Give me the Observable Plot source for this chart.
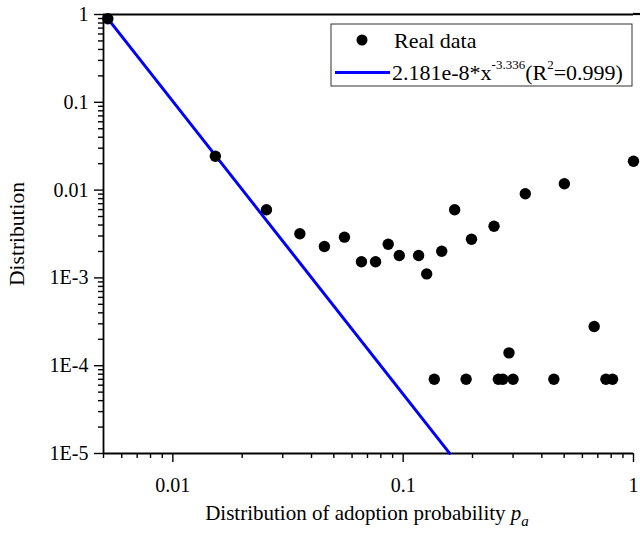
<!DOCTYPE html>
<html><head><meta charset="utf-8">
<script src="https://cdn.jsdelivr.net/npm/d3@7"></script>
<script src="https://cdn.jsdelivr.net/npm/@observablehq/plot@0.6"></script>
<style>body{margin:0;background:#fff} svg{display:block}</style>
</head><body><div id="chart"></div>
<script>
// Real data: adoption probability p_a vs distribution
const pa   = [0.00522, 0.0153, 0.0255, 0.0356, 0.0455, 0.0556, 0.0659, 0.0759, 0.0861, 0.0962,
              0.1167, 0.1265, 0.147, 0.1673, 0.198, 0.248, 0.339, 0.501, 1.0,
              0.675, 0.288,
              0.1365, 0.1876, 0.259, 0.2707, 0.300, 0.451, 0.759, 0.811];
const dist = [0.893, 0.0243, 0.00597, 0.00318, 0.00228, 0.00291, 0.00153, 0.00153, 0.00242, 0.0018,
              0.0018, 0.00111, 0.00201, 0.00597, 0.00276, 0.00388, 0.00908, 0.0118, 0.0213,
              0.00028, 0.00014,
              0.00007, 0.00007, 0.00007, 0.00007, 0.00007, 0.00007, 0.00007, 0.00007];
// Power-law fit from the legend: y = 2.181e-8 * x^-3.336
const fitA = 2.181e-8, fitB = -3.336;
const fitX = [0.0052, 0.1592];

const xTicks = [0.01, 0.1, 1];
const xTickLabels = ["0.01", "0.1", "1"];
const yTicks = [1, 0.1, 0.01, 1e-3, 1e-4, 1e-5];
const yTickLabels = ["1", "0.1", "0.01", "1E-3", "1E-4", "1E-5"];
const xDomain = [0.005, 1];
const yDomain = [1e-5, 1];
const legendLabels = ["Real data", "2.181e-8*x", "-3.336", "(R", "2", "=0.999)"];
const xLabel = "Distribution of adoption probability ";
const yLabel = "Distribution";

const data = pa.map((x, i) => ({x, y: dist[i]}));
const fit = fitX.map(x => ({x, y: fitA * Math.pow(x, fitB)}));

const minor = (lo, hi) => {
  const out = [];
  for (let e = Math.floor(Math.log10(lo)); e < Math.ceil(Math.log10(hi)); e++)
    for (let k = 2; k <= 9; k++) { const v = k * Math.pow(10, e); if (v >= lo * 0.999 && v <= hi * 1.001) out.push(v); }
  return out;
};
const xMinor = minor(xDomain[0], xDomain[1]);
const yMinor = minor(yDomain[0], yDomain[1]);

const FONT = "'Liberation Serif', 'Times New Roman', serif";
const axisCommon = {label: null, strokeWidth: 1.4, fontFamily: FONT, fontSize: 20};
const plot = Plot.plot({
  width: 640, height: 533,
  marginLeft: 103, marginRight: 7, marginTop: 14, marginBottom: 80,
  style: {fontFamily: FONT, fontSize: "20px", color: "#000", background: "#fff"},
  x: {type: "log", domain: xDomain},
  y: {type: "log", domain: yDomain},
  marks: [
    Plot.axisX({...axisCommon, ticks: xMinor, tickSize: 5, tickFormat: () => ""}),
    Plot.axisX({...axisCommon, ticks: xTicks, tickSize: 9, tickPadding: 15, tickFormat: d => xTickLabels[xTicks.indexOf(d)]}),
    Plot.axisY({...axisCommon, ticks: yMinor, tickSize: 5, tickFormat: () => ""}),
    Plot.axisY({...axisCommon, ticks: yTicks, tickSize: 9, tickPadding: 6, tickFormat: d => yTickLabels[yTicks.indexOf(d)]}),
    Plot.ruleX([xDomain[0]], {strokeWidth: 1.8}),
    Plot.ruleY([yDomain[0]], {strokeWidth: 1.8}),
    Plot.ruleY([yDomain[1]], {strokeWidth: 2.2}),
    Plot.line(fit, {x: "x", y: "y", stroke: "#0000ff", strokeWidth: 3}),
    Plot.dot(data, {x: "x", y: "y", r: 5.7, fill: "#000", stroke: null})
  ]
});
document.getElementById("chart").appendChild(plot);

const svg = d3.select(plot);
// extend the top frame line to the right edge as in the original
svg.append("line").attr("x1", 633).attr("x2", 640).attr("y1", 14).attr("y2", 14)
  .attr("stroke", "#000").attr("stroke-width", 2.2);
// axis titles
svg.append("text").attr("transform", "translate(24,234) rotate(-90)")
  .attr("text-anchor", "middle").attr("font-family", FONT).attr("font-size", 21.5).attr("fill", "#000")
  .text(yLabel);
const xl = svg.append("text").attr("x", 367).attr("y", 520)
  .attr("text-anchor", "middle").attr("font-family", FONT).attr("font-size", 21).attr("fill", "#000");
xl.append("tspan").text(xLabel);
xl.append("tspan").attr("font-style", "italic").text("p");
xl.append("tspan").attr("font-style", "italic").attr("font-size", 15).attr("dy", 6).text("a");

// legend
const lg = svg.append("g").attr("font-family", FONT).attr("fill", "#000").attr("text-anchor", "start");
lg.append("rect").attr("x", 331).attr("y", 24).attr("width", 301).attr("height", 62)
  .attr("fill", "#fff").attr("stroke", "#333").attr("stroke-width", 1);
lg.append("circle").attr("cx", 362).attr("cy", 40).attr("r", 5.5).attr("fill", "#000");
lg.append("text").attr("x", 394).attr("y", 48).attr("font-size", 22).attr("text-anchor", "start").text(legendLabels[0]);
lg.append("line").attr("x1", 335).attr("x2", 390).attr("y1", 72.5).attr("y2", 72.5)
  .attr("stroke", "#0000ff").attr("stroke-width", 3);
const ft = lg.append("text").attr("x", 392).attr("y", 80).attr("font-size", 22).attr("text-anchor", "start");
ft.append("tspan").text(legendLabels[1]);
ft.append("tspan").attr("font-size", 13).attr("dy", -11).text(legendLabels[2]);
ft.append("tspan").attr("font-size", 22).attr("dy", 11).text(legendLabels[3]);
ft.append("tspan").attr("font-size", 13).attr("dy", -11).text(legendLabels[4]);
ft.append("tspan").attr("font-size", 22).attr("dy", 11).text(legendLabels[5]);
</script>
</body></html>
